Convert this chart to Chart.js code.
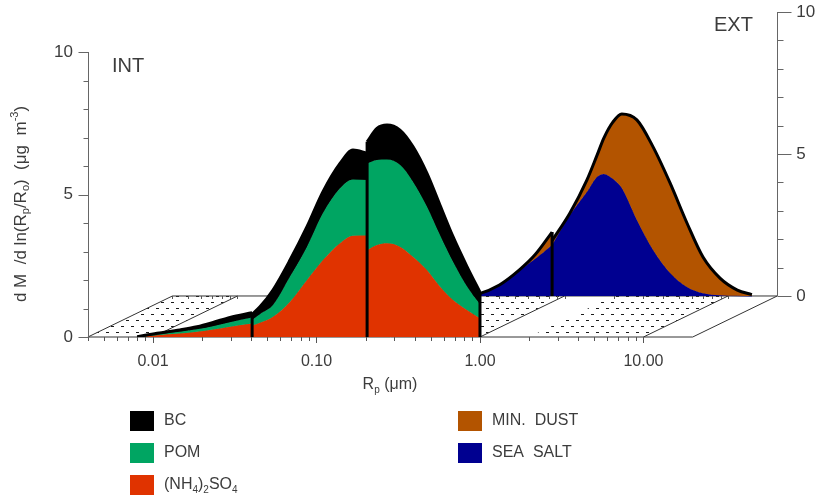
<!DOCTYPE html>
<html>
<head>
<meta charset="utf-8">
<script src="https://cdn.jsdelivr.net/npm/chart.js@4/dist/chart.umd.min.js"></script>
<style>
  html, body { margin: 0; padding: 0; background: #fff; }
  #wrap { width: 815px; height: 499px; }
</style>
</head>
<body>
<div id="wrap"><canvas id="chart" width="815" height="499"></canvas></div>
<script>
// INT (front plane) - values are stack tops: SO4, SO4+POM, SO4+POM+BC
var aitkenR   = [0.008, 0.0106, 0.0146, 0.0186, 0.0233, 0.0296, 0.0404];
var aitkenSO4 = [0.00, 0.06, 0.12, 0.18, 0.26, 0.36, 0.47];
var aitkenPOM = [0.00, 0.09, 0.18, 0.27, 0.38, 0.52, 0.68];
var aitkenBC  = [0.01, 0.13, 0.25, 0.36, 0.51, 0.69, 0.85];

var accum1R   = [0.0404, 0.0451, 0.0542, 0.0689, 0.0875, 0.1096, 0.1393, 0.1672, 0.204];
var accum1SO4 = [0.40, 0.50, 0.71, 1.24, 2.00, 2.70, 3.29, 3.55, 3.56];
var accum1POM = [0.60, 0.80, 1.12, 2.12, 3.17, 4.35, 5.22, 5.53, 5.51];
var accum1BC  = [0.80, 1.06, 1.65, 2.70, 3.87, 5.10, 6.09, 6.56, 6.45];

var accum2R   = [0.204, 0.2344, 0.270, 0.324, 0.389, 0.474, 0.569, 0.684, 0.833, 1.0];
var accum2SO4 = [3.05, 3.23, 3.29, 3.17, 2.82, 2.35, 1.77, 1.30, 0.95, 0.66];
var accum2POM = [6.09, 6.21, 6.23, 6.04, 5.45, 4.57, 3.58, 2.64, 1.77, 1.15];
var accum2BC  = [6.85, 7.32, 7.44, 7.26, 6.68, 5.74, 4.63, 3.52, 2.47, 1.57];

// EXT (back plane) - stack tops: sea salt, sea salt+dust
var coarse1R    = [0.25, 0.29, 0.40, 0.53, 0.66, 0.84];
var coarse1Salt = [0.00, 0.05, 0.39, 0.90, 1.30, 1.80];
var coarse1Dust = [0.00, 0.05, 0.39, 0.92, 1.45, 2.25];

var coarse2R    = [0.84, 1.08, 1.37, 1.58, 1.74, 1.98, 2.24, 2.77, 3.48, 4.42, 5.61, 7.03, 8.93, 11.4, 14.0];
var coarse2Salt = [1.80, 2.85, 3.66, 4.19, 4.30, 4.12, 3.80, 2.68, 1.62, 0.81, 0.32, 0.10, 0.03, 0.01, 0.00];
var coarse2Dust = [1.95, 2.92, 4.08, 4.95, 5.56, 6.13, 6.41, 6.20, 5.25, 3.98, 2.57, 1.37, 0.63, 0.21, 0.05];

var xTickValues = [0.01, 0.1, 1, 10];
var xTickLabels = ['0.01', '0.10', '1.00', '10.00'];
var yTickValues = [0, 5, 10];
var floorRange = [0.004, 20];
var dottedStrips = [[0.004, 0.01], [0.3, 1.0], [2, 10]];

var colors = {
  bc: '#000000',
  pom: '#00a562',
  so4: '#e03300',
  dust: '#b35400',
  salt: '#000090'
};

var FONT = '"Liberation Sans", Arial, sans-serif';
var TEXT = '#3c3c3c';

function series(xs, ys, color, fill, order, back, outline) {
  return {
    data: xs.map(function (x, i) { return { x: x, y: ys[i] }; }),
    xAxisID: back ? 'xb' : 'xf',
    yAxisID: back ? 'yb' : 'yf',
    backgroundColor: color,
    borderColor: outline ? '#000' : color,
    borderWidth: outline ? 3 : 1,
    fill: fill,
    order: order,
    pointRadius: 0,
    cubicInterpolationMode: 'monotone'
  };
}

function intGroup(xs, so4, pom, bc) {
  return [
    series(xs, so4, colors.so4, 'origin', 2, false, false),
    series(xs, pom, colors.pom, '-1', 1, false, false),
    series(xs, bc, colors.bc, '-1', 0, false, true)
  ];
}

function extGroup(xs, salt, dust) {
  return [
    series(xs, salt, colors.salt, 'origin', 4, true, false),
    series(xs, dust, colors.dust, '-1', 3, true, true)
  ];
}

var datasets = [].concat(
  intGroup(aitkenR, aitkenSO4, aitkenPOM, aitkenBC),
  intGroup(accum1R, accum1SO4, accum1POM, accum1BC),
  intGroup(accum2R, accum2SO4, accum2POM, accum2BC),
  extGroup(coarse1R, coarse1Salt, coarse1Dust),
  extGroup(coarse2R, coarse2Salt, coarse2Dust)
);

function last(a) { return a[a.length - 1]; }

// vertical walls between size sections
var edges = [
  { back: false, r: last(aitkenR), top: Math.max(last(aitkenBC), accum1BC[0]) },
  { back: false, r: last(accum1R), top: Math.max(last(accum1BC), accum2BC[0]) },
  { back: false, r: last(accum2R), top: last(accum2BC) },
  { back: true, r: last(coarse1R), top: Math.max(last(coarse1Dust), coarse2Dust[0]) }
];

var legendItems = [
  { col: 0, row: 0, color: colors.bc, parts: [['BC']] },
  { col: 0, row: 1, color: colors.pom, parts: [['POM']] },
  { col: 0, row: 2, color: colors.so4, parts: [['(NH'], ['4', 'sub'], [')'], ['2', 'sub'], ['SO'], ['4', 'sub']] },
  { col: 1, row: 0, color: colors.dust, parts: [['MIN.  DUST']] },
  { col: 1, row: 1, color: colors.salt, parts: [['SEA  SALT']] }
];

function richText(ctx, parts, x, y, size, align) {
  var small = Math.round(size * 0.62);
  var w = 0;
  parts.forEach(function (p) {
    ctx.font = (p[1] ? small : size) + 'px ' + FONT;
    w += ctx.measureText(p[0]).width;
  });
  var cx = align === 'center' ? x - w / 2 : (align === 'right' ? x - w : x);
  ctx.textAlign = 'left';
  ctx.textBaseline = 'middle';
  parts.forEach(function (p) {
    var dy = p[1] === 'sub' ? size * 0.3 : (p[1] === 'sup' ? -size * 0.38 : 0);
    ctx.font = (p[1] ? small : size) + 'px ' + FONT;
    ctx.fillText(p[0], cx, y + dy);
    cx += ctx.measureText(p[0]).width;
  });
}

function dotPattern(ctx) {
  var c = document.createElement('canvas');
  c.width = 10;
  c.height = 12;
  var g = c.getContext('2d');
  g.fillStyle = '#1a1a1a';
  g.fillRect(1, 2, 3, 1);
  g.fillRect(6, 8, 3, 1);
  return ctx.createPattern(c, 'repeat');
}

function logTicks(lo, hi) {
  var out = [];
  for (var e = -3; e <= 2; e++) {
    for (var m = 1; m <= 9; m++) {
      var v = m * Math.pow(10, e);
      if (v >= lo * 0.999 && v <= hi * 1.001) out.push({ v: v, major: m === 1 });
    }
  }
  return out;
}

var decor = {
  id: 'decor',
  beforeDatasetsDraw: function (chart) {
    var ctx = chart.ctx;
    var s = chart.scales;
    var f0 = s.yf.getPixelForValue(0);
    var b0 = s.yb.getPixelForValue(0);
    var lo = floorRange[0], hi = floorRange[1];
    ctx.save();

    // dotted floor strips
    ctx.fillStyle = dotPattern(ctx);
    dottedStrips.forEach(function (st) {
      ctx.beginPath();
      ctx.moveTo(s.xf.getPixelForValue(st[0]), f0);
      ctx.lineTo(s.xf.getPixelForValue(st[1]), f0);
      ctx.lineTo(s.xb.getPixelForValue(st[1]), b0);
      ctx.lineTo(s.xb.getPixelForValue(st[0]), b0);
      ctx.closePath();
      ctx.fill();
    });

    ctx.strokeStyle = '#333';
    ctx.lineWidth = 1;
    // floor outline and strip edges
    ctx.beginPath();
    ctx.moveTo(s.xf.getPixelForValue(lo), f0);
    ctx.lineTo(s.xf.getPixelForValue(hi), f0);
    ctx.lineTo(s.xb.getPixelForValue(hi), b0);
    ctx.lineTo(s.xb.getPixelForValue(lo), b0);
    ctx.closePath();
    [dottedStrips[0][1], dottedStrips[1][1], dottedStrips[2][1]].forEach(function (v) {
      ctx.moveTo(s.xf.getPixelForValue(v), f0);
      ctx.lineTo(s.xb.getPixelForValue(v), b0);
    });
    ctx.stroke();

    // baseline ticks
    ctx.strokeStyle = '#555';
    ctx.beginPath();
    logTicks(lo, 10).forEach(function (t) {
      var xf = Math.round(s.xf.getPixelForValue(t.v)) + 0.5;
      ctx.moveTo(xf, f0);
      ctx.lineTo(xf, f0 + (t.major ? 6 : 4));
      var xb = Math.round(s.xb.getPixelForValue(t.v)) + 0.5;
      ctx.moveTo(xb, b0);
      ctx.lineTo(xb, b0 + 3);
    });
    ctx.stroke();

    // left (INT) and right (EXT) value axes
    var lx = Math.round(s.xf.getPixelForValue(lo)) + 0.5;
    var rx = Math.round(s.xb.getPixelForValue(hi)) + 0.5;
    ctx.strokeStyle = '#666';
    ctx.beginPath();
    ctx.moveTo(lx, f0);
    ctx.lineTo(lx, s.yf.getPixelForValue(10));
    ctx.moveTo(rx, b0);
    ctx.lineTo(rx, s.yb.getPixelForValue(10));
    for (var v = 0; v <= 10; v++) {
      var major = v % 5 === 0;
      var yl = Math.round(s.yf.getPixelForValue(v)) + 0.5;
      ctx.moveTo(lx, yl);
      ctx.lineTo(lx - (major ? 10 : 5), yl);
      var yr = Math.round(s.yb.getPixelForValue(v)) + 0.5;
      ctx.moveTo(rx, yr);
      ctx.lineTo(rx + (major ? 14 : 6), yr);
    }
    ctx.stroke();
    ctx.restore();
  },
  afterDatasetsDraw: function (chart) {
    var ctx = chart.ctx;
    var s = chart.scales;
    ctx.save();
    ctx.strokeStyle = '#000';
    ctx.lineWidth = 3;
    ctx.beginPath();
    edges.forEach(function (e) {
      var xs = e.back ? s.xb : s.xf;
      var ys = e.back ? s.yb : s.yf;
      var x = xs.getPixelForValue(e.r);
      ctx.moveTo(x, ys.getPixelForValue(0));
      ctx.lineTo(x, ys.getPixelForValue(e.top));
    });
    ctx.stroke();
    ctx.restore();
  },
  afterDraw: function (chart) {
    var ctx = chart.ctx;
    var s = chart.scales;
    var f0 = s.yf.getPixelForValue(0);
    var lx = s.xf.getPixelForValue(floorRange[0]);
    var rx = s.xb.getPixelForValue(floorRange[1]);
    ctx.save();
    ctx.fillStyle = TEXT;

    yTickValues.forEach(function (v) {
      richText(ctx, [[String(v)]], lx - 15, s.yf.getPixelForValue(v), 17, 'right');
      richText(ctx, [[String(v)]], rx + 19, s.yb.getPixelForValue(v), 17, 'left');
    });
    xTickValues.forEach(function (v, i) {
      richText(ctx, [[xTickLabels[i]]], s.xf.getPixelForValue(v), f0 + 25, 16, 'center');
    });
    richText(ctx, [['R'], ['p', 'sub'], [' (\u03bcm)']], 390, f0 + 48, 16, 'center');

    richText(ctx, [['INT']], lx + 24, 66, 20, 'left');
    richText(ctx, [['EXT']], 714, 25, 20, 'left');

    ctx.save();
    ctx.translate(21, 204);
    ctx.rotate(-Math.PI / 2);
    richText(ctx, [['d M  /d ln(R'], ['p', 'sub'], ['/R'], ['o', 'sub'], [')  (\u03bcg  m'], ['-3', 'sup'], [')']], 0, 0, 17, 'center');
    ctx.restore();

    legendItems.forEach(function (it) {
      var bx = it.col === 0 ? 130 : 458;
      var cy = 421 + it.row * 32;
      ctx.fillStyle = it.color;
      ctx.fillRect(bx, cy - 10, 24, 20);
      ctx.fillStyle = TEXT;
      richText(ctx, it.parts, bx + 34, cy, 16, 'left');
    });
    ctx.restore();
  }
};

new Chart(document.getElementById('chart'), {
  type: 'line',
  data: { datasets: datasets },
  options: {
    responsive: false,
    animation: false,
    devicePixelRatio: 1,
    layout: { padding: { left: 88, right: 36, top: 12, bottom: 162 } },
    plugins: { legend: { display: false }, tooltip: { enabled: false } },
    scales: {
      // front and back log axes share the pixel width; the back one is shifted right
      xf: { type: 'logarithmic', display: false, bounds: 'data', min: 0.0040048, max: 67.43 },
      xb: { type: 'logarithmic', display: false, bounds: 'data', min: 0.0012183, max: 20.505 },
      // back plane baseline sits 41px above the front one
      yf: { type: 'linear', display: false, bounds: 'data', min: 0, max: 11.404 },
      yb: { type: 'linear', display: false, bounds: 'data', min: -1.4437, max: 10 }
    }
  },
  plugins: [decor]
});
</script>
</body>
</html>
